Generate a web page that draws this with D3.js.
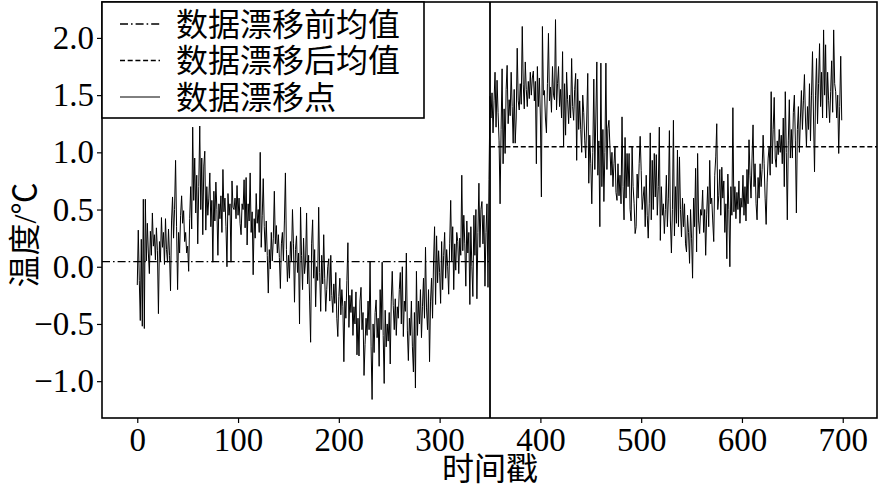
<!DOCTYPE html>
<html>
<head>
<meta charset="utf-8">
<script src="https://cdn.jsdelivr.net/npm/d3@7"></script>
<style>
	body { margin: 0; background: #fff; }
	svg { display: block; }
	.tick text { font-family: 'Liberation Serif', serif; font-size: 33px; fill: #000; }
	.tick line { stroke: #000; stroke-width: 1.2; }
	.axis-label, .legend-text { font-family: 'Liberation Serif', 'Noto Sans CJK SC', serif; font-size: 32px; fill: #000; }
</style>
</head>
<body>
<svg id="chart-svg" width="880" height="488"></svg>
<script>
// temperature readings, timestamps 0..349 (before drift)
const preDrift = [
	-0.16, 0.32, -0.12, -0.47, 0.24, -0.52, 0.59, -0.54, 0.59, 0.05,
	0.38, 0.12, -0.06, 0.31, 0.1, 0.47, 0.18, 0.28, 0.06, 0.34,
	0.14, -0.41, 0.22, 0.05, 0.43, 0.17, 0.3, 0.02, 0.42, 0.15,
	0.04, 0.33, 0.1, -0.21, 0.4, 0.61, 0.25, 0.5, 0.93, 0.35,
	-0.2, 0.3, 0.12, 0.45, 0.62, 0.38, 0.49, 0.22, 0.3, 0.12,
	0.18, -0.04, 0.42, 0.7, 0.33, 1.22, 0.58, 0.95, 0.47, 0.8,
	0.2, 0.7, 1.23, 0.5, 0.95, 0.28, 0.88, 1.01, 0.32, 0.7,
	0.45, 0.6, 0.82, 0.35, 0.58, 0.04, 0.66, 0.4, 0.74, 0.5,
	0.1, 0.55, 0.42, 0.62, 0.3, 0.85, 0.48, 0.6, 0.35, 0.0,
	0.64, 0.45, 0.55, 0.04, 0.75, 0.52, 0.5, 0.6, 0.42, 0.71,
	0.45, 0.6, 0.38, 0.28, 0.55, 0.5, 0.76, 0.34, 0.78, 0.19,
	0.55, 0.4, 0.82, 0.3, 0.48, -0.07, 0.42, 0.25, 0.64, 0.38,
	0.5, 0.3, 1.0, 0.17, 0.45, 0.77, 0.35, 0.13, 0.4, 0.1,
	-0.23, 0.15, -0.02, 0.3, 0.05, 0.25, 0.66, 0.2, 0.36, 0.12,
	0.28, 0.08, -0.19, 0.2, 0.3, 0.05, 0.4, 0.82, 0.15, -0.13,
	0.1, -0.1, 0.22, 0.05, 0.5, 0.2, -0.31, 0.15, 0.27, -0.05,
	0.12, -0.5, 0.52, 0.1, -0.2, 0.25, -0.06, 0.05, 0.47, -0.15,
	0.1, -0.3, -0.66, 0.2, 0.41, -0.1, 0.15, -0.35, 0.0, -0.12,
	0.52, -0.05, -0.39, 0.1, -0.15, 0.28, -0.1, -0.39, -0.2, 0.0,
	0.07, -0.3, 0.1, -0.25, -0.4, -0.15, -0.32, -0.05, -0.45, -0.61,
	-0.26, -0.1, -0.42, -0.2, -0.35, -0.83, -0.3, -0.45, -0.12, 0.21,
	-0.53, -0.25, -0.4, -0.2, -0.6, -0.35, -0.5, -0.22, -0.77, -0.45,
	-0.78, -0.3, -0.18, -0.55, -0.4, -0.95, -0.68, -0.45, -0.6, -0.3,
	-0.55, 0.05, -0.7, -1.16, -0.5, -0.75, -0.4, -0.29, -0.62, -0.45,
	-0.87, -0.2, -0.55, 0.04, -0.6, -1.02, -0.38, -0.7, -0.5, -0.65,
	-0.4, -0.85, -0.3, -0.04, -0.34, -0.55, -0.28, -0.6, -0.35, -0.45,
	-0.2, -0.05, -0.5, 0.0, -0.61, -0.3, -0.39, 0.12, -0.56, -0.82,
	-0.45, -0.6, -0.3, -0.7, -0.92, -0.4, -1.06, -0.04, -0.6, -0.3,
	-0.5, -0.2, -0.62, -0.35, -0.1, -0.45, 0.17, -0.36, -0.55, -0.2,
	-0.83, -0.3, -0.1, -0.45, 0.05, 0.35, -0.33, 0.27, -0.14, 0.14,
	-0.05, -0.32, 0.22, -0.2, 0.1, 0.3, -0.1, 0.15, 0.0, -0.24,
	0.2, 0.58, 0.05, 0.35, -0.2, 0.2, -0.03, 0.3, 0.22, -0.06,
	0.25, 0.1, 0.8, 0.14, 0.45, 0.2, -0.17, 0.4, 0.12, 0.3,
	-0.33, 0.35, 0.0, -0.26, 0.45, 0.1, 0.5, -0.28, 0.3, 0.73,
	0.17, 0.5, 0.57, 0.2, 0.45, -0.17, 0.3, 0.55, -0.18, 0.76
];

// timestamps 350..699 (after drift)
const postDrift = [
	1.49, 1.3, 1.52, 1.17, 1.45, 1.7, 1.22, 1.63, 1.35, 1.1,
	0.55, 1.2, 1.73, 0.9, 1.38, 0.99, 1.55, 1.76, 1.25, 1.46,
	1.32, 1.7, 1.4, 1.08, 1.55, 1.08, 1.3, 1.91, 1.45, 1.37,
	1.6, 1.42, 2.1, 1.59, 1.38, 1.79, 1.55, 1.4, 1.62, 1.47,
	1.7, 1.5, 1.65, 1.71, 1.45, 1.62, 0.9, 1.75, 1.4, 1.65,
	1.3, 0.61, 2.1, 1.5, 1.54, 1.3, 1.17, 1.6, 2.04, 1.45,
	1.57, 1.35, 1.75, 1.5, 1.46, 2.16, 1.37, 1.6, 1.75, 1.4,
	1.55, 1.3, 1.88, 1.05, 1.6, 1.15, 1.7, 1.46, 1.25, 1.5,
	1.3, 1.82, 1.4, 1.28, 1.55, 1.69, 0.93, 1.64, 1.2, 1.45,
	1.2, 1.0, 1.5, 1.35, 1.1, 0.95, 1.3, 1.69, 0.73, 1.15,
	0.9, 0.55, 1.0, 1.64, 0.85, 1.3, 1.79, 0.8, 1.1, 0.35,
	1.78, 0.7, 1.2, 0.57, 1.0, 1.78, 0.85, 1.21, 1.28, 1.05,
	0.8, 1.0, 0.7, 0.9, 1.05, 0.65, 0.58, 0.9, 0.62, 0.8,
	0.55, 1.31, 0.7, 0.41, 1.13, 0.6, 0.99, 0.7, 0.99, 0.5,
	0.4, 1.05, 0.7, 0.55, 0.29, 0.35, 0.81, 0.6, 0.9, 1.14,
	0.84, 0.5, 0.61, 0.7, 0.35, 0.8, 0.45, 0.25, 0.55, 1.17,
	0.41, 0.93, 0.5, 0.99, 0.61, 0.98, 0.45, 0.7, 1.22, 0.23,
	0.7, 0.45, 0.55, 0.29, 0.5, 0.8, 0.35, 0.6, 1.19, 0.4,
	0.12, 0.5, 1.28, 0.27, 0.7, 0.38, 1.02, 0.35, 0.96, 0.5,
	0.26, 0.6, 0.35, 0.55, 0.2, 0.13, 0.45, 0.3, 0.03, 0.5,
	0.25, -0.1, 0.6, 0.35, 0.86, 0.13, 0.99, 0.4, 0.29, 0.5,
	0.45, 0.67, 0.3, 0.5, 0.1, 0.46, 0.7, 0.35, 0.93, 0.55,
	0.6, 0.4, 0.22, 0.8, 0.96, 1.25, 0.5, 0.62, 0.85, 0.45,
	0.87, 0.6, 0.75, 0.3, 0.55, 0.07, 0.81, 0.5, 0.0, 0.7,
	0.45, 1.39, 0.48, 0.7, 0.42, 0.65, 0.5, 0.75, 0.38, 0.6,
	0.52, 0.8, 0.45, 0.7, 0.4, 0.85, 0.55, 1.11, 0.8, 0.6,
	0.95, 1.24, 0.7, 0.9, 0.55, 0.41, 0.78, 0.6, 0.9, 0.7,
	0.85, 1.15, 0.9, 0.6, 0.37, 0.74, 0.95, 1.05, 0.8, 1.53,
	0.9, 1.2, 1.48, 0.95, 0.87, 1.1, 0.98, 1.2, 1.0, 1.15,
	0.9, 1.3, 0.7, 1.53, 1.0, 0.41, 1.1, 1.46, 0.95, 1.2,
	0.95, 1.35, 1.5, 1.1, 0.47, 1.2, 1.4, 1.0, 1.3, 1.54,
	1.2, 1.45, 1.68, 1.3, 1.05, 1.4, 1.2, 1.6, 1.1, 1.5,
	1.88, 1.3, 0.83, 1.5, 1.82, 1.25, 1.6, 1.95, 1.4, 1.7,
	1.3, 2.07, 1.5, 1.94, 1.3, 1.7, 1.45, 1.26, 1.53, 1.8,
	1.35, 2.07, 1.6, 1.53, 1.3, 1.5, 0.99, 1.4, 1.84, 1.28
];

const driftIndex = 350;
const preMean = 0.044;   // mean before drift
const postMean = 1.049;  // mean after drift

const xTicks = [0, 100, 200, 300, 400, 500, 600, 700];
const yTicks = [-1.0, -0.5, 0.0, 0.5, 1.0, 1.5, 2.0];

const legendLabels = ['数据漂移前均值', '数据漂移后均值', '数据漂移点'];
const xLabel = '时间戳';
const yLabel = '温度/℃';

const temps = preDrift.concat(postDrift);

const svg = d3.select('#chart-svg');
const margin = { left: 102, right: 3, top: 2, bottom: 70 };
const width = 880 - margin.left - margin.right;
const height = 488 - margin.top - margin.bottom;

const x = d3.scaleLinear().domain([-35, 734]).range([margin.left, margin.left + width]);
const y = d3.scaleLinear().domain([-1.322, 2.314]).range([margin.top + height, margin.top]);

svg.append('defs').append('clipPath').attr('id', 'plot-clip')
	.append('rect')
	.attr('x', margin.left).attr('y', margin.top)
	.attr('width', width).attr('height', height);

// axes
const xAxis = d3.axisBottom(x).tickValues(xTicks).tickFormat(d3.format('d')).tickSize(5).tickSizeOuter(0).tickPadding(5);
const yAxis = d3.axisLeft(y).tickValues(yTicks).tickFormat(d3.format('.1f')).tickSize(5).tickSizeOuter(0).tickPadding(3);

svg.append('g').attr('transform', `translate(0,${margin.top + height})`).call(xAxis)
	.call((g) => g.select('.domain').remove());
svg.append('g').attr('transform', `translate(${margin.left},0)`).call(yAxis)
	.call((g) => g.select('.domain').remove());

// minus sign like matplotlib
svg.selectAll('.tick text').text(function () {
	return d3.select(this).text().replace('-', '−');
});

const plot = svg.append('g').attr('clip-path', 'url(#plot-clip)');

// the temperature series
const line = d3.line().x((d, i) => x(i)).y((d) => y(d));
plot.append('path')
	.datum(temps)
	.attr('d', line)
	.attr('fill', 'none')
	.attr('stroke', '#000')
	.attr('stroke-width', 1)
	.attr('stroke-linejoin', 'miter');

// mean lines
plot.append('line')
	.attr('x1', margin.left).attr('x2', x(driftIndex))
	.attr('y1', y(preMean)).attr('y2', y(preMean))
	.attr('stroke', '#000').attr('stroke-width', 1.3)
	.attr('stroke-dasharray', '8,3,1.6,3');
plot.append('line')
	.attr('x1', x(driftIndex)).attr('x2', margin.left + width)
	.attr('y1', y(postMean)).attr('y2', y(postMean))
	.attr('stroke', '#000').attr('stroke-width', 1.3)
	.attr('stroke-dasharray', '5,2.7');

// drift point
plot.append('line')
	.attr('x1', x(driftIndex)).attr('x2', x(driftIndex))
	.attr('y1', margin.top).attr('y2', margin.top + height)
	.attr('stroke', '#000').attr('stroke-width', 1.8);

// frame
svg.append('rect')
	.attr('x', margin.left).attr('y', margin.top)
	.attr('width', width).attr('height', height)
	.attr('fill', 'none').attr('stroke', '#000').attr('stroke-width', 1.6);

// legend
const legend = svg.append('g').attr('transform', `translate(${margin.left},${margin.top})`);
legend.append('rect')
	.attr('x', 0).attr('y', 0).attr('width', 322).attr('height', 116)
	.attr('fill', '#fff').attr('stroke', '#000').attr('stroke-width', 1.6);
const dashes = ['8,3,1.6,3', '5,2.7', null];
legendLabels.forEach((label, i) => {
	const cy = 22 + i * 36.5;
	legend.append('line')
		.attr('x1', 18).attr('x2', 58).attr('y1', cy).attr('y2', cy)
		.attr('stroke', '#000').attr('stroke-width', i == 2 ? 1 : 1.3)
		.attr('stroke-dasharray', dashes[i]);
	legend.append('text')
		.attr('class', 'legend-text')
		.attr('x', 74).attr('y', cy)
		.attr('dy', '0.36em')
		.text(label);
});

// axis titles
svg.append('text')
	.attr('class', 'axis-label')
	.attr('x', x(350)).attr('y', 480)
	.attr('text-anchor', 'middle')
	.text(xLabel);
svg.append('text')
	.attr('class', 'axis-label')
	.attr('transform', `translate(36,235) rotate(-90)`)
	.attr('text-anchor', 'middle')
	.text(yLabel);
</script>
</body>
</html>
